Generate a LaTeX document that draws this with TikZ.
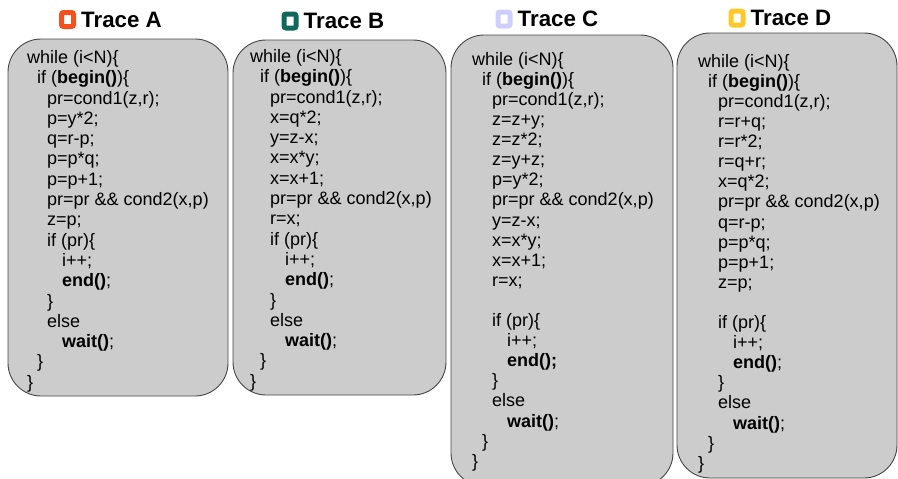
\documentclass[tikz,border=0pt]{standalone}
\usepackage{fontspec}
\setmainfont{Liberation Sans}
\usepackage{tikz}
\usetikzlibrary{positioning}
\definecolor{tagA}{RGB}{244,81,30}
\definecolor{tagB}{RGB}{16,103,94}
\definecolor{tagC}{RGB}{206,206,255}
\definecolor{tagD}{RGB}{255,200,40}
\definecolor{boxfill}{RGB}{204,204,204}
\definecolor{boxline}{RGB}{70,70,70}
\newcommand{\ind}[1]{\hspace*{#1pt}}
\tikzset{
    codebox/.style={draw=boxline, fill=boxfill, line width=0.9pt, rounded corners=33pt}, % the grey rounded panels
    code/.style={anchor=north west, inner sep=0pt, align=left, font=\fontsize{18}{20.1}\selectfont}, % listing text
    shortcode/.style={code, font=\fontsize{18}{20.3}\selectfont},
    tracetag/.style={line width=5pt, fill=white, rounded corners=2pt, minimum width=12pt, minimum height=14pt, inner sep=0pt},
    tracetitle/.style={inner sep=0pt, font=\fontsize{22.3}{24}\selectfont\bfseries},
}
\begin{document}
\begin{tikzpicture}[x=1pt, y=-1pt]
    \useasboundingbox (0,0) rectangle (898,479);
    \clip (0,0) rectangle (898,479);
    % panels
    \draw[codebox] (8,39) rectangle (228,396);
    \draw[codebox] (233,40) rectangle (446,395);
    \draw[codebox] (451,35) rectangle (673,486);
    \draw[codebox] (677,33) rectangle (897,478);
    % titles
    \node[tracetag, draw=tagA] (tagA) at (67.5,19.5) {};
    \node[tracetitle, right=5pt of tagA] (titleA) {Trace A};
    \node[tracetag, draw=tagB] (tagB) at (290,21) {};
    \node[tracetitle, right=5pt of tagB] (titleB) {Trace B};
    \node[tracetag, draw=tagC] (tagC) at (504,19) {};
    \node[tracetitle, right=5pt of tagC] (titleC) {Trace C};
    \node[tracetag, draw=tagD] (tagD) at (737,18) {};
    \node[tracetitle, right=5pt of tagD] (titleD) {Trace D};
    % listings
    \node[shortcode] (codeA) at (27,49) {\strut while (i<N)\{\\
        \ind{10}if (\textbf{begin()})\{\\
        \ind{20}pr=cond1(z,r);\\
        \ind{20}p=y*2;\\
        \ind{20}q=r-p;\\
        \ind{20}p=p*q;\\
        \ind{20}p=p+1;\\
        \ind{20}pr=pr \&\& cond2(x,p)\\
        \ind{20}z=p;\\
        \ind{20}if (pr)\{\\
        \ind{35}i++;\\
        \ind{35}\textbf{end()};\\
        \ind{20}\}\\
        \ind{20}else\\
        \ind{35}\textbf{wait()};\\
        \ind{10}\}\\
        \}};
    \node[shortcode] (codeB) at (250,48) {\strut while (i<N)\{\\
        \ind{10}if (\textbf{begin()})\{\\
        \ind{20}pr=cond1(z,r);\\
        \ind{20}x=q*2;\\
        \ind{20}y=z-x;\\
        \ind{20}x=x*y;\\
        \ind{20}x=x+1;\\
        \ind{20}pr=pr \&\& cond2(x,p)\\
        \ind{20}r=x;\\
        \ind{20}if (pr)\{\\
        \ind{35}i++;\\
        \ind{35}\textbf{end()};\\
        \ind{20}\}\\
        \ind{20}else\\
        \ind{35}\textbf{wait()};\\
        \ind{10}\}\\
        \}};
    \node[code] (codeC) at (472,51) {\strut while (i<N)\{\\
        \ind{10}if (\textbf{begin()})\{\\
        \ind{20}pr=cond1(z,r);\\
        \ind{20}z=z+y;\\
        \ind{20}z=z*2;\\
        \ind{20}z=y+z;\\
        \ind{20}p=y*2;\\
        \ind{20}pr=pr \&\& cond2(x,p)\\
        \ind{20}y=z-x;\\
        \ind{20}x=x*y;\\
        \ind{20}x=x+1;\\
        \ind{20}r=x;\\
        \mbox{}\\
        \ind{20}if (pr)\{\\
        \ind{35}i++;\\
        \ind{35}\textbf{end();}\\
        \ind{20}\}\\
        \ind{20}else\\
        \ind{35}\textbf{wait()};\\
        \ind{10}\}\\
        \}};
    \node[code] (codeD) at (698,53) {\strut while (i<N)\{\\
        \ind{10}if (\textbf{begin()})\{\\
        \ind{20}pr=cond1(z,r);\\
        \ind{20}r=r+q;\\
        \ind{20}r=r*2;\\
        \ind{20}r=q+r;\\
        \ind{20}x=q*2;\\
        \ind{20}pr=pr \&\& cond2(x,p)\\
        \ind{20}q=r-p;\\
        \ind{20}p=p*q;\\
        \ind{20}p=p+1;\\
        \ind{20}z=p;\\
        \mbox{}\\
        \ind{20}if (pr)\{\\
        \ind{35}i++;\\
        \ind{35}\textbf{end()};\\
        \ind{20}\}\\
        \ind{20}else\\
        \ind{35}\textbf{wait()};\\
        \ind{10}\}\\
        \}};
\end{tikzpicture}
\end{document}
